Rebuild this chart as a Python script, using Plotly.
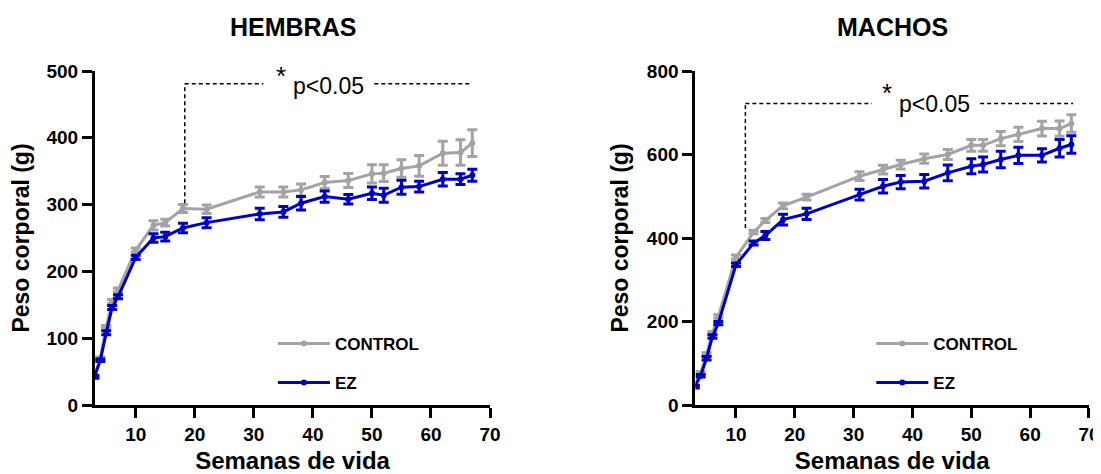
import plotly.graph_objects as go

# ---------------- data ----------------
weeks = [3, 4, 5, 6, 7, 10, 13, 15, 18, 22, 31, 35, 38, 42, 46, 50, 52, 55, 58, 62, 65, 67]

hembras_control = [43, 70, 117, 155, 172, 232, 269, 273, 294, 293, 319, 319, 322, 333, 336, 346, 347, 354, 358, 377, 378, 392]
hembras_control_sem = [2, 2, 2, 3, 3, 3, 7, 5, 6, 6.5, 7.5, 7.5, 9, 9, 10.5, 13.5, 12.5, 13, 15.5, 18, 19, 20]
hembras_ez = [42, 67, 108, 146, 162, 221, 250, 252, 265, 273, 286, 289, 302, 312, 308, 317, 314, 326, 327, 338, 338, 344]
hembras_ez_sem = [2, 2, 3, 3, 3, 3, 6.5, 6.5, 7, 7.5, 8.5, 8, 10, 8.5, 7, 9.5, 10.5, 10.5, 8, 10, 8, 9]

machos_control = [46, 77, 122, 173, 212, 354, 414, 442, 477, 498, 548, 564, 576, 590, 600, 622, 622, 638, 648, 662, 662, 674]
machos_control_sem = [2, 3, 3, 3, 4, 5, 4, 5, 7, 7, 10.5, 10.5, 10.5, 11, 12, 14, 14, 17, 17, 17.5, 18, 21]
machos_ez = [44, 70, 112, 164, 196, 336, 388, 406, 444, 458, 504, 524, 534, 536, 556, 572, 576, 588, 598, 598, 615, 624]
machos_ez_sem = [3, 3, 4, 4, 4, 4, 5, 9.5, 13, 13.5, 13, 16, 16, 16, 19, 18, 18, 20, 19.5, 16, 21, 21]

panel_titles = ["HEMBRAS", "MACHOS"]
series_names = ["CONTROL", "EZ"]
x_title = "Semanas de vida"
y_title = "Peso corporal (g)"
x_ticks = [10, 20, 30, 40, 50, 60, 70]
y_ticks_h = [0, 100, 200, 300, 400, 500]
y_ticks_m = [0, 200, 400, 600, 800]

# significance brackets (data coords)
sig_h = dict(x0=18.3, ybot=302, y=481, gap0=31.6, gap1=50.4, x1=66.7, star_x=34.6, star_y=492, p_x=42.7, p_y=478)
sig_m = dict(x0=11.6, ybot=424, y=722, gap0=33.1, gap1=51.5, x1=67.3, star_x=35.6, star_y=748, p_x=43.7, p_y=722)
sig_label = "p<0.05"

GRAY = "#A3A3A6"
BLUE = "#0000C4"
FONT = "Arial, Liberation Sans, sans-serif"

fig = go.Figure()

def add_series(xref, yref, y, sem, name, color, legend):
    fig.add_trace(go.Scatter(
        x=weeks, y=y, name=name, xaxis=xref, yaxis=yref,
        mode="lines+markers",
        line=dict(color=color, width=3),
        marker=dict(color=color, size=6),
        error_y=dict(type="data", array=sem, visible=True, color=color, thickness=3, width=5),
        legend=legend, legendgroup=name + legend, cliponaxis=False,
    ))

add_series("x", "y", hembras_control, hembras_control_sem, series_names[0], GRAY, "legend")
add_series("x", "y", hembras_ez, hembras_ez_sem, series_names[1], BLUE, "legend")
add_series("x2", "y2", machos_control, machos_control_sem, series_names[0], GRAY, "legend2")
add_series("x2", "y2", machos_ez, machos_ez_sem, series_names[1], BLUE, "legend2")

tickfont = dict(family=FONT, size=19, color="black", weight="bold")
axis_common = dict(showline=True, linecolor="black", linewidth=3, ticks="outside",
                   ticklen=10, tickwidth=3, tickcolor="black", showgrid=False,
                   zeroline=False, tickfont=tickfont, mirror=False, automargin=False)

xa = dict(range=[3.1, 70], tickvals=x_ticks, **axis_common,
          title=dict(text=x_title, font=dict(family=FONT, size=24, color="black", weight="bold"), standoff=20))

ytitle = dict(text=y_title, font=dict(family=FONT, size=23, color="black", weight="bold"), standoff=12)

legend_common = dict(xanchor="left", yanchor="top", bgcolor="rgba(0,0,0,0)",
                     font=dict(family=FONT, size=17, color="black", weight="bold"),
                     traceorder="grouped", tracegroupgap=14, itemwidth=52)

# the page adds an 8px body margin, so the figure is 8px smaller than the window
fig.update_layout(
    width=1093, height=466,
    margin=dict(l=87, r=12, t=63, b=69, autoexpand=False),
    paper_bgcolor="white", plot_bgcolor="white",
    font=dict(family=FONT, color="black"),
    xaxis=dict(domain=[0, 0.3974], anchor="y", **xa),
    xaxis2=dict(domain=[0.604, 1], anchor="y2", **xa),
    yaxis=dict(domain=[0, 1], anchor="x", range=[0, 500], tickvals=y_ticks_h, **axis_common, title=ytitle),
    yaxis2=dict(domain=[0, 1], anchor="x2", range=[0, 800], tickvals=y_ticks_m, **axis_common, title=ytitle),
    legend=dict(x=0.179, y=0.237, **legend_common),
    legend2=dict(x=0.781, y=0.237, **legend_common),
    showlegend=True,
)

# panel titles
for t, dom in zip(panel_titles, [[0, 0.3974], [0.604, 1]]):
    fig.add_annotation(text=t, xref="paper", yref="paper", x=(dom[0] + dom[1]) / 2, y=1.132,
                       xanchor="center", yanchor="middle", showarrow=False,
                       font=dict(family=FONT, size=25, color="black", weight="bold"))

# significance brackets
for s, xr, yr in [(sig_h, "x", "y"), (sig_m, "x2", "y2")]:
    dl = dict(color="black", width=1.5, dash="4px,3px")
    fig.add_shape(type="line", xref=xr, yref=yr, x0=s["x0"], x1=s["x0"], y0=s["ybot"], y1=s["y"], line=dl)
    fig.add_shape(type="line", xref=xr, yref=yr, x0=s["x0"], x1=s["gap0"], y0=s["y"], y1=s["y"], line=dl)
    fig.add_shape(type="line", xref=xr, yref=yr, x0=s["gap1"], x1=s["x1"], y0=s["y"], y1=s["y"], line=dl)
    fig.add_annotation(text="*", xref=xr, yref=yr, x=s["star_x"], y=s["star_y"], showarrow=False,
                       xanchor="center", yanchor="middle", font=dict(family=FONT, size=26, color="black"))
    fig.add_annotation(text=sig_label, xref=xr, yref=yr, x=s["p_x"], y=s["p_y"], showarrow=False,
                       xanchor="center", yanchor="middle", font=dict(family=FONT, size=23, color="black"))

fig.write_html("out.html")
